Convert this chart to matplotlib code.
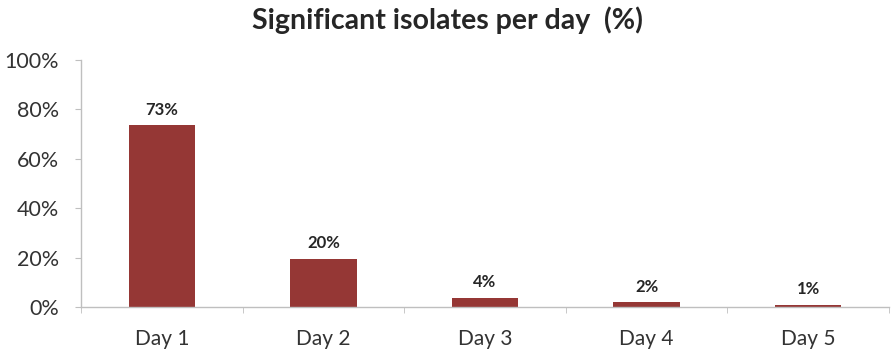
import numpy as np
import matplotlib.pyplot as plt

# datos
dias = ["Day 1", "Day 2", "Day 3", "Day 4", "Day 5"]
valores = [73.5, 19.6, 3.8, 1.9, 0.9]
etiquetas = ["73%", "20%", "4%", "2%", "1%"]
yticks = [0, 20, 40, 60, 80, 100]

plt.rcParams['font.family'] = ['Lato', 'DejaVu Sans']

fig = plt.figure(figsize=(8.94, 3.58), dpi=100)
ax = fig.add_axes([0.0906, 0.1425, 0.9038, 0.69])

x = np.arange(len(dias))
barras = ax.bar(x, valores, width=0.41, color='#953735')

for b, t in zip(barras, etiquetas):
    ax.text(b.get_x() + b.get_width() / 2, b.get_height() + 3, t,
            ha='center', va='bottom', fontsize=12, fontweight='bold', color='#262626')

ax.set_xlim(-0.5, len(dias) - 0.5)
ax.set_ylim(0, 100)
ax.set_yticks(yticks)
ax.set_yticklabels([f"{v}%" for v in yticks])
ax.set_xticks(x)
ax.set_xticklabels(dias)
ax.set_xticks(np.arange(-0.5, len(dias)), minor=True)

for s in ['top', 'right']:
    ax.spines[s].set_visible(False)
for s in ['left', 'bottom']:
    ax.spines[s].set_color('#bfbfbf')
    ax.spines[s].set_linewidth(1)

ax.tick_params(axis='y', length=4, color='#bfbfbf', pad=12, labelsize=15.5, labelcolor='#333333')
ax.tick_params(axis='x', which='major', length=0, pad=16, labelsize=15, labelcolor='#333333')
ax.tick_params(axis='x', which='minor', length=4, color='#bfbfbf')

fig.text(0.5, 0.943, "Significant isolates per day  (%)", ha='center', va='center',
         fontsize=20.5, fontweight='bold', color='#262626')

fig.savefig('out.png', dpi=100)
